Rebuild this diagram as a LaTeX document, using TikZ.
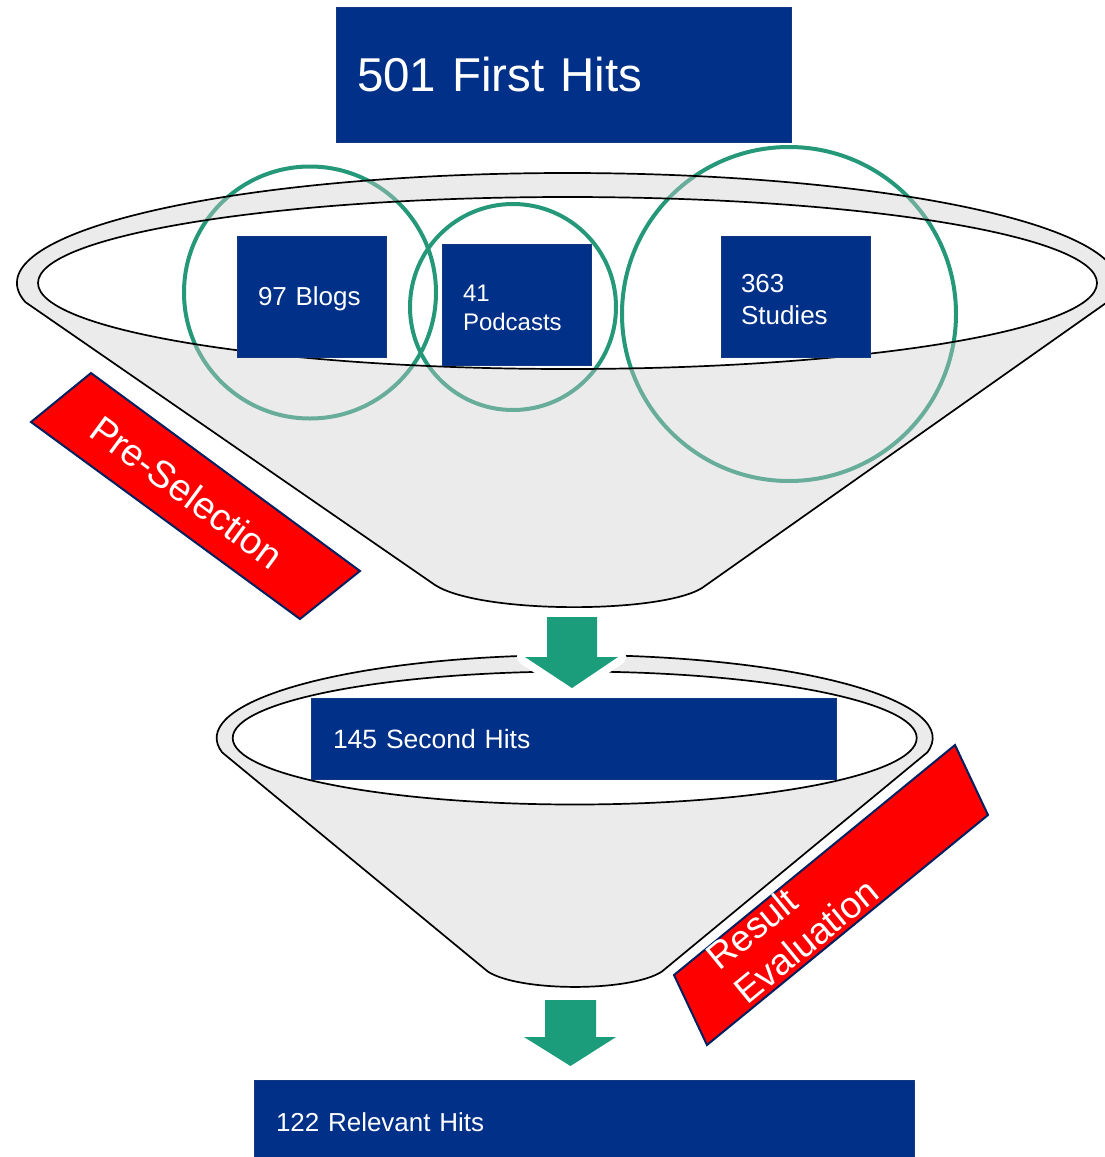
\documentclass[tikz,border=0pt]{standalone}
\usepackage{fontspec}
\setmainfont{Liberation Sans}
\definecolor{navy}{RGB}{0,48,135}
\definecolor{navyedge}{RGB}{20,55,130}
\definecolor{bandred}{RGB}{255,0,0}
\definecolor{bandedge}{RGB}{0,32,96}
\definecolor{arrowteal}{RGB}{27,157,124}
\definecolor{ringteal}{RGB}{38,152,122}
\begin{document}
\begin{tikzpicture}[x=1pt,y=-1pt,
  hitbox/.style={rectangle, fill=navy, draw=navyedge, line width=0.8pt, text=white, align=left, inner ysep=0pt, outer sep=0pt},
  ring/.style={circle, draw=ringteal, line width=4pt, inner sep=0pt, outer sep=0pt},
  funnelbody/.style={fill=black!20, fill opacity=0.4, even odd rule},
  funnelline/.style={draw=black, line width=1.7pt, line join=round},
  downarrow/.style={fill=arrowteal, preaction={draw=white, line width=16pt, line join=round}},
  band/.style={fill=bandred, draw=bandedge, line width=2pt},
  bandtext/.style={text=white, inner sep=0pt, font=\fontsize{38}{45}\selectfont}
]
\useasboundingbox (0,0) rectangle (1104,1157);

% lower funnel
\path[funnelbody] (222.14,752.41) arc[start angle=170, end angle=370, x radius=358, y radius=83]
  -- (661.7,971.7) .. controls (630,992) and (520,992) .. (488,971.7) -- cycle
  (574.7,738) ellipse [x radius=342, y radius=66.5];
\draw[funnelline] (222.14,752.41) arc[start angle=170, end angle=370, x radius=358, y radius=83]
  -- (661.7,971.7) .. controls (630,992) and (520,992) .. (488,971.7) -- cycle;
\draw[funnelline] (574.7,738) ellipse [x radius=342, y radius=66.5];

% arrows
\path[downarrow] (547,617) -- (597,617) -- (597,657) -- (618,657) -- (572,688) -- (525,657) -- (547,657) -- cycle;
\path[downarrow] (545,1000) -- (596,1000) -- (596,1037) -- (616,1037) -- (570.5,1066) -- (524,1037) -- (545,1037) -- cycle;

% category circles
\node[ring, minimum size=252pt] (cblogs) at (310,292.5) {};
\node[ring, minimum size=206pt] (cpods) at (513,307) {};
\node[ring, minimum size=334pt] (cstudies) at (789,314) {};

% upper funnel
\path[funnelbody] (25.36,302.10) arc[start angle=170, end angle=368, x radius=550.5, y radius=110]
  -- (702,588) .. controls (660,614) and (480,614) .. (435,585) -- cycle
  (567.5,283) ellipse [x radius=529.5, y radius=86];
\draw[funnelline] (25.36,302.10) arc[start angle=170, end angle=368, x radius=550.5, y radius=110]
  -- (702,588) .. controls (660,614) and (480,614) .. (435,585) -- cycle;
\draw[funnelline] (567.5,283) ellipse [x radius=529.5, y radius=86];

% boxes
\node[hitbox, minimum height=135pt, text width=413pt, inner xsep=21pt, font=\fontsize{47.5}{57}\selectfont] (first) at (563.5,74.5) {501 First Hits};
\node[hitbox, minimum height=121pt, text width=107pt, inner xsep=21pt, text depth=-8pt, font=\fontsize{26}{32}\selectfont] (blogs) at (311.5,296.5) {97 Blogs};
\node[hitbox, minimum height=121pt, text width=107pt, inner xsep=21pt, text depth=23.5pt, font=\fontsize{24}{29.5}\selectfont] (pods) at (516.5,304.5) {41\\Podcasts};
\node[hitbox, minimum height=121pt, text width=109pt, inner xsep=20pt, text depth=26pt, font=\fontsize{26}{32}\selectfont] (studies) at (795.5,296.5) {363\\Studies};
\node[hitbox, minimum height=81pt, text width=481pt, inner xsep=22pt, text depth=-3pt, font=\fontsize{26.5}{32}\selectfont] (second) at (573.5,738.5) {145 Second Hits};
\node[hitbox, minimum height=84pt, text width=616pt, inner xsep=22pt, font=\fontsize{26}{32}\selectfont] (relevant) at (584,1122) {122 Relevant Hits};

% bands
\draw[band] (91,373) -- (360,571) -- (300,619) -- (31,422) -- cycle;
\node[bandtext, rotate=-36.4] (pre) at (187,492) {Pre-Selection};
\draw[band] (674,975) -- (955,745) -- (988,815) -- (707,1045) -- cycle;
\node[bandtext, rotate=39.3, align=left, font=\fontsize{37}{44}\selectfont] (res) at (792,924) {Result\\Evaluation};
\end{tikzpicture}
\end{document}
